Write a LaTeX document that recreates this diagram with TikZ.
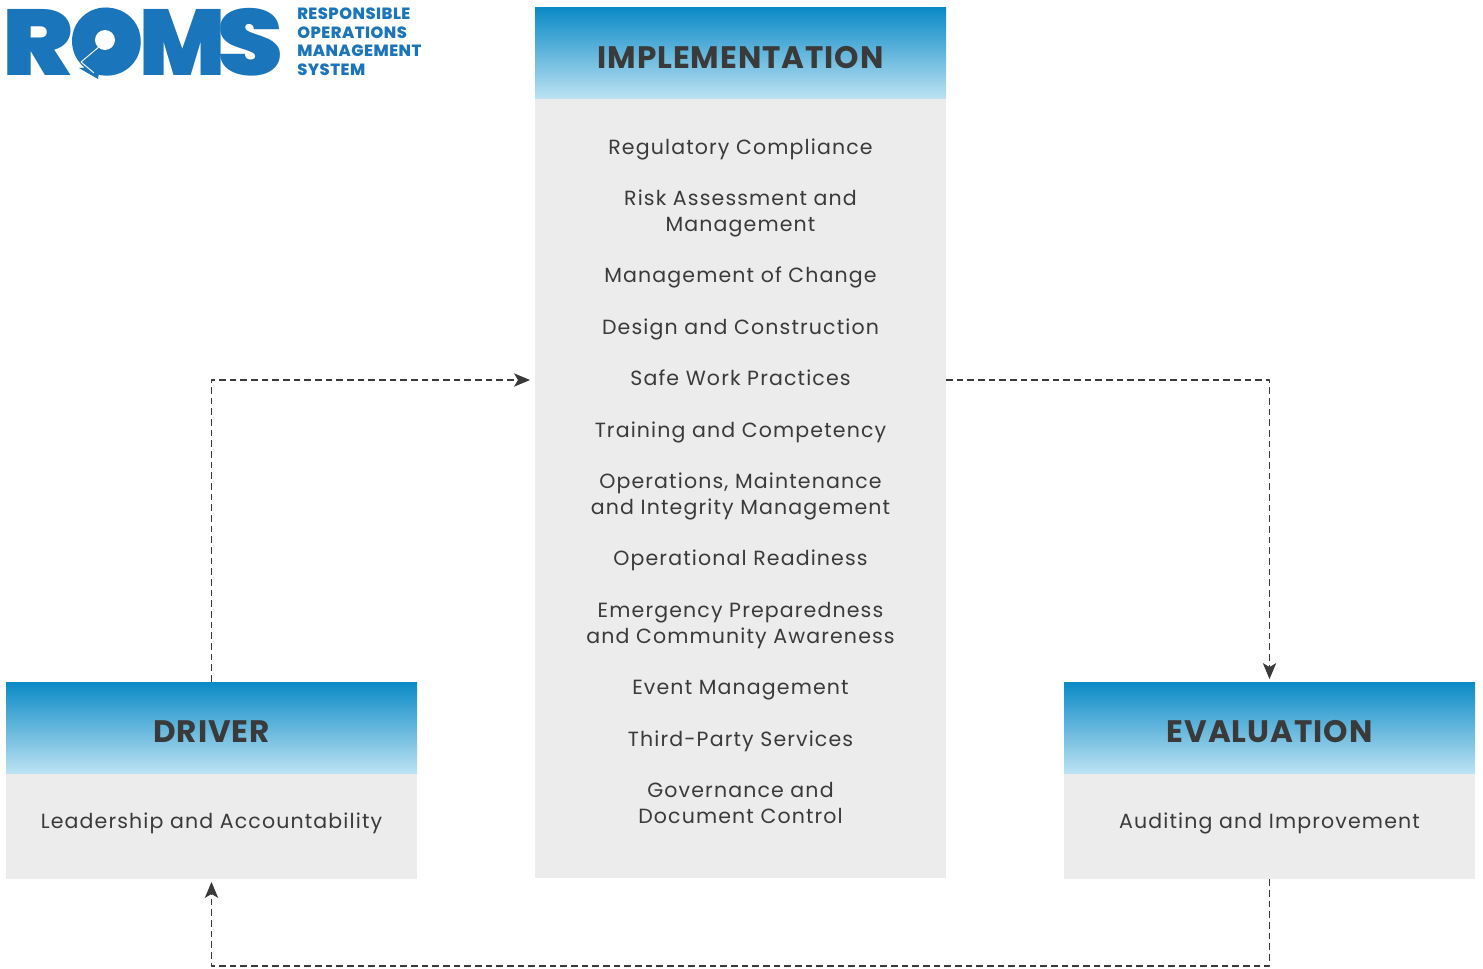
\documentclass[tikz,border=0pt]{standalone}
\usepackage{fontspec}
\setmainfont[LetterSpace=5.5]{Poppins}
\newfontfamily\headfont[LetterSpace=3]{Poppins Bold}
\newfontfamily\logofont{Poppins Black}
\newfontfamily\subfont[LetterSpace=3]{Poppins ExtraBold}
\usetikzlibrary{arrows.meta}
\definecolor{romsblue}{HTML}{1B75BB}
\definecolor{headtop}{HTML}{0A8AC6}
\definecolor{headbot}{HTML}{BEE3F3}
\definecolor{bodygrey}{HTML}{ECECEC}
\definecolor{inkgrey}{HTML}{3A3A3A}
\tikzset{
	headbox/.style={minimum width=411*0.75pt, minimum height=92*0.75pt, inner sep=0pt, top color=headtop, bottom color=headbot, text=inkgrey, text height=22pt, text depth=0pt, font=\headfont\fontsize{23.3}{26}\selectfont},
	bodybox/.style={minimum width=411*0.75pt, inner sep=0pt, fill=bodygrey, text=inkgrey, text height=10pt, text depth=6.8pt, align=center, font=\fontsize{15.4}{19.3}\selectfont},
	flowline/.style={inkgrey, dash pattern=on 5pt off 3pt, line width=0.95pt, -{Stealth[length=12pt,width=10pt,inset=3pt]}},
	logoletter/.style={text=romsblue, font=\logofont\fontsize{70}{70}\selectfont, inner sep=0pt, anchor=base west, transform shape},
}
\begin{document}
\begin{tikzpicture}[x=0.75pt, y=-0.75pt, line join=round, >=stealth]
	\useasboundingbox (0,0) rectangle (1483,968);
	% boxes
	\node[headbox] (implhead) at (740.5,53.5) {IMPLEMENTATION};
	\node[bodybox, minimum height=779*0.75pt, text height=0pt, text depth=0pt] (implbody) at (740.5,488.5) {};
	\node[text=inkgrey, align=center, font=\fontsize{15.4}{19.3}\selectfont, inner sep=0pt, anchor=north] (impltext) at (740.5,138.3) {Regulatory Compliance\\[19.3pt]
		Risk Assessment and\\Management\\[19.3pt]
		Management of Change\\[19.3pt]
		Design and Construction\\[19.3pt]
		Safe Work Practices\\[19.3pt]
		Training and Competency\\[19.3pt]
		Operations, Maintenance\\and Integrity Management\\[19.3pt]
		Operational Readiness\\[19.3pt]
		Emergency Preparedness\\and Community Awareness\\[19.3pt]
		Event Management\\[19.3pt]
		Third-Party Services\\[19.3pt]
		Governance and\\Document Control};
	\node[headbox] (drvhead) at (211.5,728) {DRIVER};
	\node[bodybox, minimum height=105*0.75pt] (drvbody) at (211.5,826.5) {Leadership and Accountability};
	\node[headbox] (evalhead) at (1269.5,728) {EVALUATION};
	\node[bodybox, minimum height=105*0.75pt] (evalbody) at (1269.5,826.5) {Auditing and Improvement};
	% connectors
	\coordinate (implin) at (530,380);
	\coordinate (implout) at (946,380);
	\coordinate (bottomrun) at (740,966);
	\draw[flowline] (drvhead.north) |- (implin);
	\draw[flowline, shorten >=2pt] (implout) -| (evalhead.north);
	\draw[flowline, shorten >=2pt] (evalbody.south) |- (bottomrun) -| (drvbody.south);
	% logo
	\node[logoletter, xscale=1.13] (logor) at (2,75) {R};
	\node[logoletter] (logoo) at (70,75) {O};
	\node[logoletter, xscale=0.97] (logom) at (139,75) {M};
	\node[logoletter, xscale=1.13] (logos) at (217,75) {S};
	\fill[romsblue] (105.5,41) circle (33.5) (79,68) -- (98,79) -- (100,66) -- cycle;
	\fill[white] (105,40) circle (10);
	\draw[white, line width=0.7pt] (100,46) -- (81,62) -- (94,73);
	\node[text=romsblue, align=left, anchor=north west, inner sep=0pt, font=\subfont\fontsize{12.2}{13.9}\selectfont] (logotext) at (297,8) {RESPONSIBLE\\OPERATIONS\\MANAGEMENT\\SYSTEM};
\end{tikzpicture}
\end{document}
